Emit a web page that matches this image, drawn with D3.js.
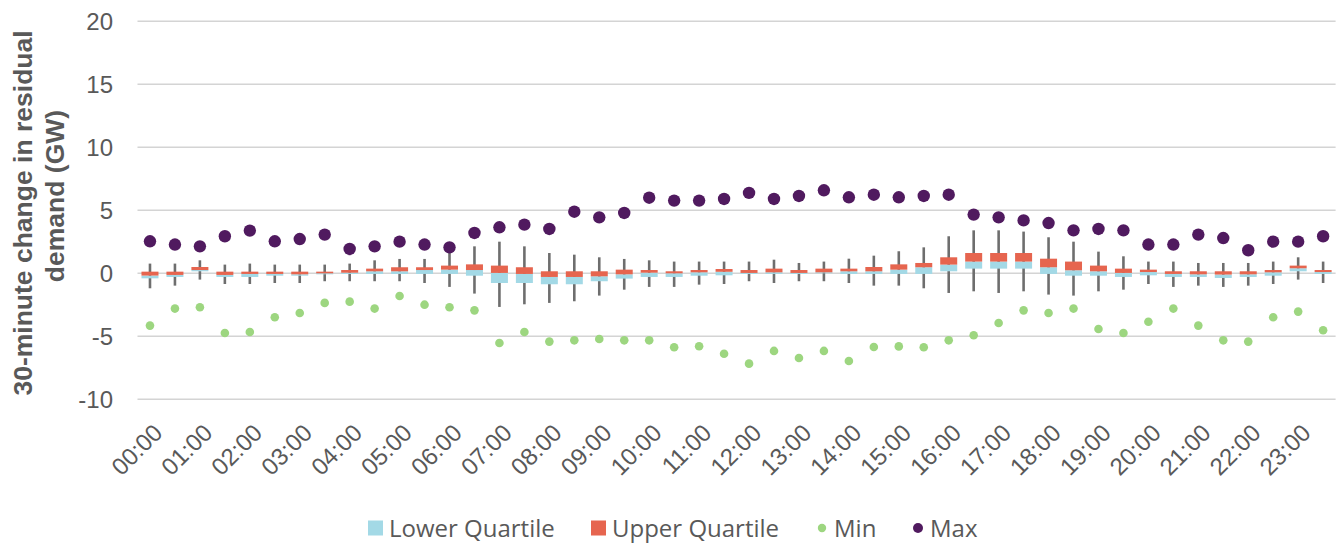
<!DOCTYPE html>
<html>
<head>
<meta charset="utf-8">
<script src="https://cdn.jsdelivr.net/npm/d3@7"></script>
<style>
  html, body { margin: 0; padding: 0; background: #fff; }
  svg { display: block; }
</style>
</head>
<body>
<svg id="chart" width="1338" height="547"></svg>
<script>
// ---- Data ----
const categories = d3.range(48).map(i => {
  const h = Math.floor(i / 2), m = (i % 2) * 30;
  return String(h).padStart(2, "0") + ":" + String(m).padStart(2, "0");
});
const tickLabels = categories.filter((c, i) => i % 2 === 0);
const yTicks = [-10, -5, 0, 5, 10, 15, 20];

const maxValues = [2.54, 2.28, 2.14, 2.94, 3.39, 2.54, 2.72, 3.07, 1.93, 2.14, 2.51, 2.28,
  2.06, 3.20, 3.65, 3.86, 3.52, 4.89, 4.44, 4.79, 6.00, 5.77, 5.77, 5.90,
  6.38, 5.90, 6.14, 6.59, 6.03, 6.24, 6.03, 6.14, 6.24, 4.66, 4.44, 4.20,
  3.99, 3.41, 3.52, 3.41, 2.28, 2.28, 3.07, 2.80, 1.83, 2.51, 2.51, 2.94];
const minValues = [-4.15, -2.80, -2.70, -4.74, -4.66, -3.49, -3.15, -2.35, -2.25, -2.80, -1.80, -2.49,
  -2.70, -2.94, -5.53, -4.66, -5.42, -5.32, -5.21, -5.32, -5.32, -5.87, -5.79, -6.38,
  -7.17, -6.16, -6.72, -6.16, -6.96, -5.85, -5.80, -5.87, -5.32, -4.92, -3.94, -2.94,
  -3.15, -2.80, -4.42, -4.74, -3.84, -2.80, -4.15, -5.32, -5.42, -3.49, -3.04, -4.52];
const whiskerHigh = [0.77, 0.77, 1.03, 0.69, 0.77, 0.69, 0.69, 0.69, 0.77, 1.03, 1.14, 1.14,
  1.61, 2.14, 2.51, 2.14, 1.61, 1.48, 1.27, 1.14, 1.03, 0.93, 0.93, 0.93,
  0.93, 1.08, 0.82, 0.93, 1.16, 1.40, 1.75, 2.06, 2.94, 3.41, 3.41, 3.31,
  2.86, 2.51, 1.72, 1.35, 0.93, 0.93, 0.82, 0.82, 0.82, 0.93, 1.27, 0.93];
const whiskerLow = [-1.19, -0.98, -0.50, -0.85, -0.85, -0.77, -0.77, -0.63, -0.63, -0.63, -0.63, -0.77,
  -1.08, -1.61, -2.67, -2.46, -2.35, -2.22, -1.77, -1.30, -1.08, -1.08, -0.90, -0.85,
  -0.63, -0.77, -0.63, -0.63, -0.77, -0.98, -0.98, -1.19, -1.56, -1.43, -1.56, -1.43,
  -1.69, -1.77, -1.43, -1.30, -0.85, -1.08, -0.98, -1.08, -0.98, -0.85, -0.50, -0.77];
const q1Values = [-0.40, -0.29, 0.16, -0.29, -0.29, -0.19, -0.19, -0.08, -0.05, -0.05, -0.05, -0.05,
  -0.05, -0.19, -0.77, -0.77, -0.87, -0.87, -0.63, -0.42, -0.29, -0.29, -0.19, -0.16,
  -0.05, -0.05, -0.05, 0.00, -0.05, -0.05, -0.05, -0.05, 0.16, 0.37, 0.37, 0.37,
  -0.05, -0.19, -0.19, -0.29, -0.16, -0.29, -0.29, -0.37, -0.29, -0.19, 0.16, -0.05];
const medianValues = [-0.18, -0.13, 0.26, -0.13, -0.05, -0.05, -0.08, 0.00, 0.05, 0.16, 0.16, 0.26,
  0.29, 0.26, 0.03, -0.05, -0.29, -0.29, -0.24, -0.08, 0.05, 0.00, 0.08, 0.12,
  0.03, 0.08, 0.03, 0.08, 0.16, 0.16, 0.29, 0.48, 0.69, 0.93, 0.93, 0.93,
  0.48, 0.24, 0.16, 0.03, 0.10, -0.05, -0.08, -0.10, -0.08, 0.08, 0.40, 0.10];
const q3Values = [0.13, 0.13, 0.50, 0.13, 0.13, 0.13, 0.13, 0.13, 0.26, 0.37, 0.48, 0.48,
  0.61, 0.71, 0.61, 0.48, 0.16, 0.16, 0.16, 0.29, 0.26, 0.16, 0.26, 0.34,
  0.26, 0.37, 0.26, 0.37, 0.37, 0.50, 0.71, 0.82, 1.27, 1.61, 1.61, 1.61,
  1.16, 0.93, 0.61, 0.37, 0.29, 0.16, 0.16, 0.16, 0.16, 0.26, 0.61, 0.26];

const seriesNames = ["Lower Quartile", "Upper Quartile", "Min", "Max"];
const colors = { lower: "#a3d9e6", upper: "#e6654f", min: "#9dd680", max: "#501a5f", whisker: "#6e6e6e" };

(function () {
const svg = d3.select("#chart");
const plotLeft = 137.5, plotRight = 1335.6, plotTop = 21.3, plotBottom = 399.3;

const x = d3.scaleBand().domain(categories).range([plotLeft, plotRight]).padding(0);
const y = d3.scaleLinear().domain([-10, 20]).range([plotBottom, plotTop]);
const cx = c => x(c) + x.bandwidth() / 2;
const boxW = 17;
const axisFont = "Liberation Sans, Arial, sans-serif";

// gridlines
svg.append("g").selectAll("line").data(yTicks).join("line")
  .attr("x1", plotLeft).attr("x2", plotRight)
  .attr("y1", d => y(d)).attr("y2", d => y(d))
  .attr("stroke", "#d4d4d4").attr("stroke-width", 1.4);

// y axis labels
const yAxis = d3.axisLeft(y).tickValues(yTicks).tickSize(0).tickPadding(0).tickFormat(d => String(d));
const yg = svg.append("g").attr("transform", `translate(${113},0)`).call(yAxis);
yg.select(".domain").remove();
yg.selectAll("text").attr("font-family", axisFont)
  .attr("font-size", 24).attr("fill", "#595959").attr("dy", "0.35em");

// x axis labels
const xAxis = d3.axisBottom(x).tickValues(tickLabels).tickSize(0).tickPadding(0);
const xg = svg.append("g").attr("transform", `translate(0,${plotBottom})`).call(xAxis);
xg.select(".domain").remove();
xg.selectAll("text")
  .attr("font-family", axisFont)
  .attr("font-size", 24).attr("fill", "#595959")
  .attr("text-anchor", "end")
  .attr("y", null).attr("dy", "0.35em")
  .attr("transform", "translate(8,29) rotate(-45)");

// whiskers
svg.append("g").selectAll("line").data(categories).join("line")
  .attr("x1", c => cx(c)).attr("x2", c => cx(c))
  .attr("y1", (c, i) => y(whiskerHigh[i])).attr("y2", (c, i) => y(whiskerLow[i]))
  .attr("stroke", colors.whisker).attr("stroke-width", 2.6);

// lower quartile boxes (q1 -> median)
svg.append("g").selectAll("rect").data(categories).join("rect")
  .attr("x", c => cx(c) - boxW / 2).attr("width", boxW)
  .attr("y", (c, i) => y(medianValues[i]))
  .attr("height", (c, i) => y(q1Values[i]) - y(medianValues[i]))
  .attr("fill", colors.lower);

// upper quartile boxes (median -> q3)
svg.append("g").selectAll("rect").data(categories).join("rect")
  .attr("x", c => cx(c) - boxW / 2).attr("width", boxW)
  .attr("y", (c, i) => y(q3Values[i]))
  .attr("height", (c, i) => y(medianValues[i]) - y(q3Values[i]))
  .attr("fill", colors.upper);

// min dots
svg.append("g").selectAll("circle").data(categories).join("circle")
  .attr("cx", c => cx(c)).attr("cy", (c, i) => y(minValues[i])).attr("r", 4.3)
  .attr("fill", colors.min);

// max dots
svg.append("g").selectAll("circle").data(categories).join("circle")
  .attr("cx", c => cx(c)).attr("cy", (c, i) => y(maxValues[i])).attr("r", 6.2)
  .attr("fill", colors.max);

// y-axis title
const title = svg.append("text")
  .attr("transform", "translate(32,213) rotate(-90)")
  .attr("text-anchor", "middle")
  .attr("font-family", axisFont)
  .attr("font-weight", "bold").attr("font-size", 26.5).attr("fill", "#595959");
title.append("tspan").attr("x", 0).attr("dy", 0).text("30-minute change in residual");
title.append("tspan").attr("x", 17).attr("dy", 32).text("demand (GW)");

// legend
const legendFont = "Open Sans, Noto Sans, sans-serif";
const legendY = 528;
const legendItems = [
  { name: seriesNames[0], type: "rect", color: colors.lower, x: 368 },
  { name: seriesNames[1], type: "rect", color: colors.upper, x: 591 },
  { name: seriesNames[2], type: "dot", color: colors.min, x: 822 },
  { name: seriesNames[3], type: "dot", color: colors.max, x: 918 }
];
const lg = svg.append("g");
legendItems.forEach(it => {
  let tx;
  if (it.type === "rect") {
    lg.append("rect").attr("x", it.x).attr("y", legendY - 7.5).attr("width", 15).attr("height", 15).attr("fill", it.color);
    tx = it.x + 21;
  } else {
    lg.append("circle").attr("cx", it.x).attr("cy", legendY).attr("r", it.name === "Max" ? 5 : 4.2).attr("fill", it.color);
    tx = it.x + 12;
  }
  lg.append("text").attr("x", tx).attr("y", legendY).attr("dy", "0.36em")
    .attr("font-family", legendFont).attr("font-size", 24).attr("fill", "#595959")
    .text(it.name);
});
})();
</script>
</body>
</html>
